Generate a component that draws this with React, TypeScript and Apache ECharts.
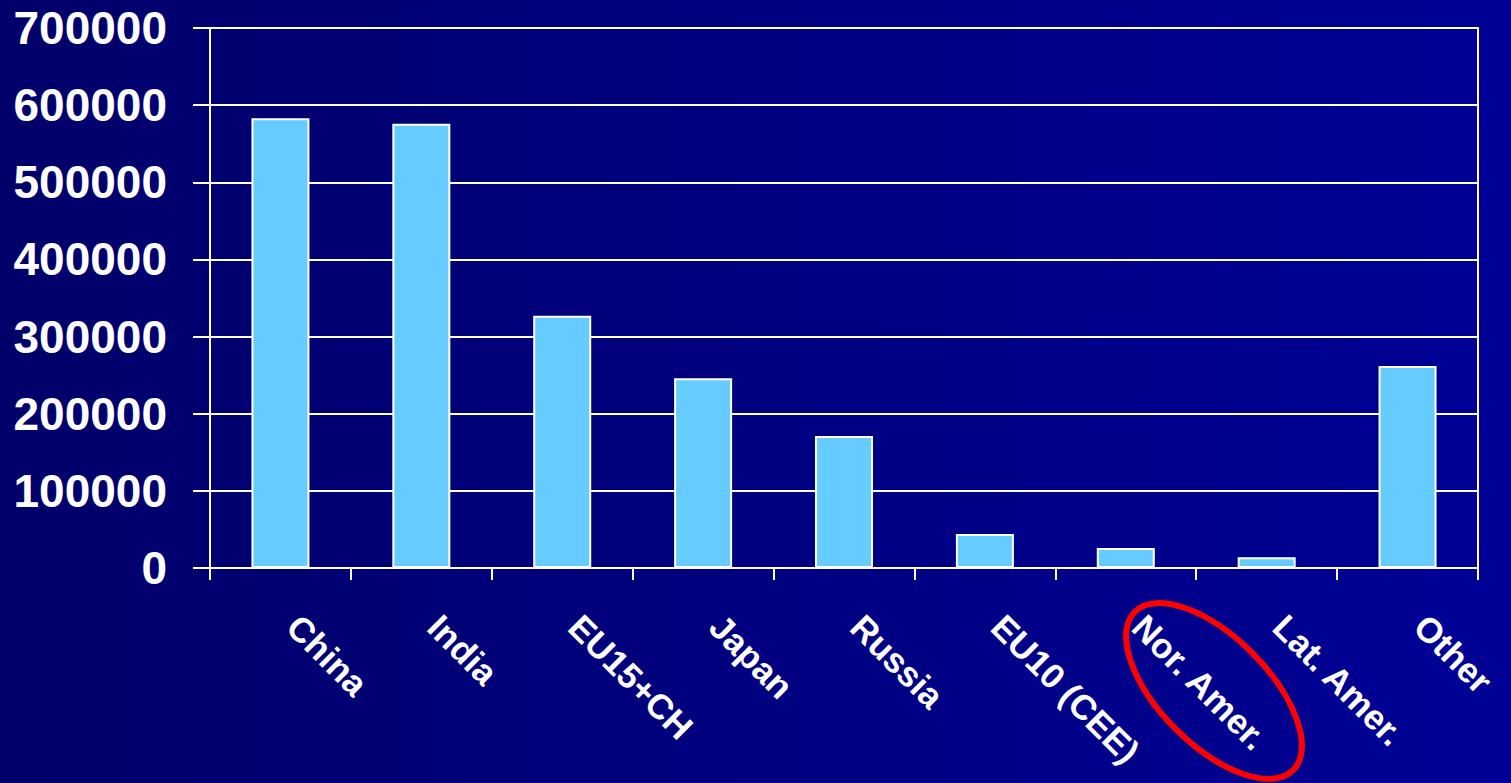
import React, { useEffect, useRef } from "react";
import * as echarts from "echarts";

const categories = ["China", "India", "EU15+CH", "Japan", "Russia", "EU10 (CEE)", "Nor. Amer.", "Lat. Amer.", "Other"];
const values = [583000, 576000, 327000, 246000, 171000, 44000, 26000, 14000, 262000];
const yTicks = { min: 0, max: 700000, interval: 100000 };

export default function App() {
  const ref = useRef<HTMLDivElement>(null);
  useEffect(() => {
    if (!ref.current) return;
    const chart = echarts.init(ref.current, null, { renderer: "svg" });
    const font = "'Liberation Sans', Arial, sans-serif";
    chart.setOption({
      animation: false,
      backgroundColor: {
        type: "linear",
        x: 0, y: 0, x2: 1, y2: 0,
        colorStops: [
          { offset: 0, color: "#00006A" },
          { offset: 1, color: "#000096" },
        ],
      },
      grid: {
        left: 210, right: 33, top: 28, bottom: 215,
        show: true, borderColor: "#ffffff", borderWidth: 2, backgroundColor: "transparent",
      },
      xAxis: {
        type: "category",
        data: categories,
        boundaryGap: true,
        axisLine: { show: true, lineStyle: { color: "#ffffff", width: 2 } },
        axisTick: { show: true, length: 12, inside: false, lineStyle: { color: "#ffffff", width: 2 } },
        axisLabel: {
          rotate: -45,
          margin: 40,
          interval: 0,
          padding: [0, 0, 0, 18],
          color: "#ffffff",
          fontSize: 35,
          fontWeight: "bold",
          fontFamily: font,
        },
        splitLine: { show: false },
      },
      yAxis: {
        type: "value",
        min: yTicks.min,
        max: yTicks.max,
        interval: yTicks.interval,
        axisLine: { show: true, lineStyle: { color: "#ffffff", width: 2 } },
        axisTick: { show: true, length: 17, inside: false, lineStyle: { color: "#ffffff", width: 2 } },
        axisLabel: {
          margin: 43,
          color: "#ffffff",
          fontSize: 46,
          fontWeight: "bold",
          fontFamily: font,
          formatter: (v: number) => String(v),
        },
        splitLine: { show: true, lineStyle: { color: "#ffffff", width: 2 } },
      },
      series: [
        {
          type: "bar",
          data: values,
          barWidth: 58,
          itemStyle: { color: "#66CCFF", borderColor: "#ffffff", borderWidth: 2 },
        },
      ],
      graphic: [
        {
          type: "ellipse",
          x: 1214,
          y: 691,
          rotation: -Math.PI / 4,
          shape: { cx: 0, cy: 0, rx: 112, ry: 54 },
          style: { fill: "none", stroke: "#FF0000", lineWidth: 6 },
          z: 100,
        },
      ],
    });
    return () => chart.dispose();
  }, []);
  return <div ref={ref} style={{ width: 1511, height: 783, position: "absolute", left: 0, top: 0 }} />;
}
